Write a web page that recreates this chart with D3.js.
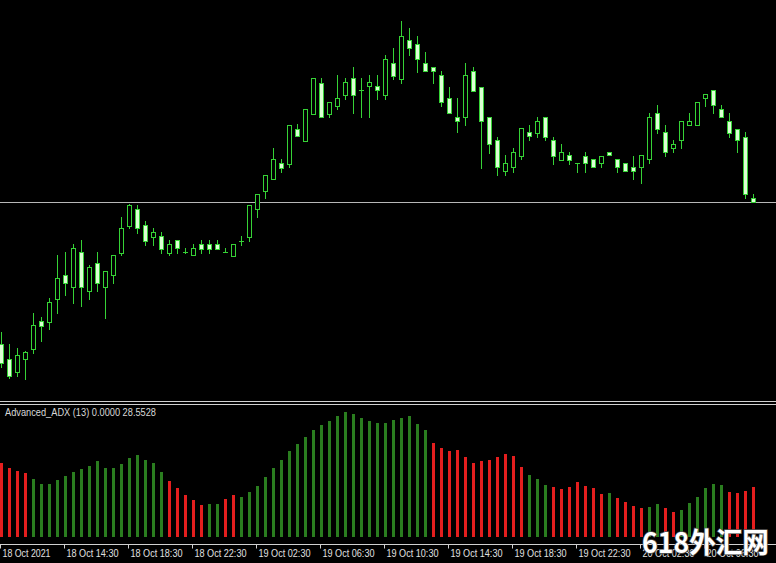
<!DOCTYPE html>
<html><head><meta charset="utf-8">
<script src="https://cdn.jsdelivr.net/npm/d3@7"></script>
<style>html,body{margin:0;padding:0;background:#000;}svg{display:block;}</style>
</head><body>
<script>
// ---- data (EURUSD-like M30 bars) ----
const openP  = [1.16258,1.16243,1.16230,1.16243,1.16253,1.16281,1.16280,1.16303,1.16327,1.16315,1.16350,1.16311,1.16339,1.16315,1.16327,1.16349,1.16376,1.16393,1.16377,1.16365,1.16366,1.16349,1.16362,1.16350,1.16347,1.16358,1.16358,1.16358,1.16350,1.16346,1.16361,1.16365,1.16393,1.16411,1.16423,1.16439,1.16438,1.16473,1.16461,1.16488,1.16519,1.16488,1.16496,1.16507,1.16524,1.16512,1.16516,1.16516,1.16507,1.16539,1.16523,1.16562,1.16558,1.16539,1.16535,1.16527,1.16504,1.16485,1.16485,1.16531,1.16515,1.16485,1.16462,1.16431,1.16435,1.16446,1.16470,1.16469,1.16485,1.16462,1.16442,1.16447,1.16439,1.16446,1.16443,1.16439,1.16450,1.16443,1.16439,1.16435,1.16435,1.16443,1.16489,1.16470,1.16454,1.16462,1.16477,1.16477,1.16504,1.16512,1.16493,1.16481,1.16473,1.16465,1.16404];
const highP  = [1.16270,1.16258,1.16254,1.16251,1.16289,1.16285,1.16304,1.16347,1.16350,1.16358,1.16362,1.16337,1.16350,1.16331,1.16347,1.16385,1.16398,1.16397,1.16381,1.16374,1.16370,1.16362,1.16362,1.16354,1.16358,1.16362,1.16362,1.16362,1.16354,1.16358,1.16366,1.16397,1.16408,1.16427,1.16454,1.16443,1.16477,1.16478,1.16493,1.16524,1.16524,1.16500,1.16527,1.16524,1.16535,1.16524,1.16527,1.16527,1.16547,1.16554,1.16581,1.16574,1.16566,1.16550,1.16535,1.16531,1.16515,1.16504,1.16539,1.16535,1.16515,1.16485,1.16465,1.16447,1.16454,1.16474,1.16477,1.16485,1.16485,1.16465,1.16458,1.16450,1.16439,1.16450,1.16443,1.16446,1.16450,1.16443,1.16439,1.16446,1.16447,1.16489,1.16497,1.16477,1.16462,1.16481,1.16489,1.16500,1.16508,1.16512,1.16497,1.16489,1.16473,1.16470,1.16408];
const lowP   = [1.16235,1.16224,1.16226,1.16223,1.16249,1.16261,1.16273,1.16289,1.16307,1.16299,1.16296,1.16303,1.16311,1.16284,1.16319,1.16347,1.16374,1.16369,1.16357,1.16357,1.16349,1.16347,1.16349,1.16349,1.16347,1.16349,1.16349,1.16353,1.16350,1.16346,1.16357,1.16361,1.16385,1.16404,1.16423,1.16430,1.16435,1.16466,1.16461,1.16488,1.16485,1.16485,1.16493,1.16503,1.16489,1.16485,1.16485,1.16503,1.16503,1.16523,1.16519,1.16547,1.16530,1.16531,1.16519,1.16496,1.16489,1.16470,1.16477,1.16511,1.16434,1.16449,1.16427,1.16427,1.16430,1.16443,1.16462,1.16465,1.16462,1.16438,1.16442,1.16438,1.16430,1.16430,1.16435,1.16435,1.16447,1.16430,1.16431,1.16423,1.16419,1.16439,1.16469,1.16446,1.16450,1.16454,1.16477,1.16477,1.16496,1.16489,1.16485,1.16465,1.16450,1.16404,1.16400];
const closeP = [1.16239,1.16226,1.16247,1.16250,1.16277,1.16276,1.16300,1.16324,1.16319,1.16354,1.16315,1.16335,1.16319,1.16331,1.16347,1.16374,1.16397,1.16374,1.16361,1.16370,1.16353,1.16358,1.16354,1.16350,1.16354,1.16353,1.16353,1.16353,1.16350,1.16358,1.16361,1.16397,1.16408,1.16427,1.16443,1.16434,1.16477,1.16466,1.16493,1.16524,1.16485,1.16500,1.16504,1.16520,1.16507,1.16512,1.16520,1.16512,1.16543,1.16526,1.16566,1.16554,1.16543,1.16531,1.16531,1.16500,1.16489,1.16481,1.16527,1.16511,1.16481,1.16458,1.16435,1.16439,1.16450,1.16474,1.16466,1.16481,1.16465,1.16446,1.16450,1.16442,1.16439,1.16439,1.16435,1.16446,1.16447,1.16435,1.16431,1.16431,1.16447,1.16485,1.16473,1.16450,1.16458,1.16481,1.16481,1.16500,1.16508,1.16497,1.16485,1.16469,1.16462,1.16408,1.16400];
const currentPrice = 1.16400;

const adxValues = [41.8,39.3,37.5,36.3,32.9,30.1,30.1,32.2,34.6,36.7,38.6,40.3,43.0,39.3,39.2,41.3,44.8,46.6,43.7,41.8,36.7,31.8,27.6,23.8,21.0,18.2,18.7,18.7,21.4,23.8,22.9,25.7,29.1,34.2,39.3,43.9,48.8,52.8,56.8,60.9,63.6,66.0,68.7,71.1,69.8,67.7,66.0,64.9,64.9,66.1,67.7,68.7,64.2,60.9,53.5,50.4,49.0,49.4,45.6,42.2,43.3,43.7,45.6,47.1,46.0,39.7,35.2,32.9,29.5,28.6,27.2,28.6,31.1,29.1,28.0,24.2,25.1,22.3,20.0,17.8,16.6,17.2,18.9,16.6,14.4,15.3,19.1,22.9,28.0,29.9,29.5,25.7,25.1,26.3,28.5528];
// 1 = rising (green), 0 = falling (red)
const adxRising = [0,0,0,0,1,1,1,1,1,1,1,1,1,1,1,1,1,1,1,1,1,0,0,0,0,0,1,1,0,0,1,1,1,1,1,1,1,1,1,1,1,1,1,1,1,1,1,1,1,1,1,1,1,1,0,0,0,0,0,0,0,0,0,0,0,0,1,1,1,0,0,0,0,0,0,0,1,0,0,0,0,1,1,0,0,1,1,1,1,1,1,0,0,0,0];

const tickLabels = ["18 Oct 2021","18 Oct 14:30","18 Oct 18:30","18 Oct 22:30","19 Oct 02:30","19 Oct 06:30","19 Oct 10:30","19 Oct 14:30","19 Oct 18:30","19 Oct 22:30","20 Oct 02:30","20 Oct 06:30"];
const tickBars = [0,8,16,24,32,40,48,56,64,72,80,88];
const indicatorLabel = "Advanced_ADX (13) 0.0000 28.5528";
const watermark = "618外汇网";

// ---- layout ----
const W = 776, H = 563;
const svg = d3.select("body").append("svg").attr("width", W).attr("height", H)
  .style("background", "#000");

const n = openP.length;
const x = d3.scaleLinear().domain([0, n - 1]).range([1, 1 + 8 * (n - 1)]);
const y = d3.scaleLinear().domain([1.16222, 1.16582]).range([380, 20]);
const yA = d3.scaleLinear().domain([0, 80]).range([537, 396]);

const px = v => Math.round(v) + 0.5;
const lineColor = "#36d236";
const bearFill = "#dcffd4";

// current price line
svg.append("line").attr("x1", 0).attr("x2", W)
  .attr("y1", px(y(currentPrice))).attr("y2", px(y(currentPrice)))
  .attr("stroke", "#b8b8b8").attr("stroke-width", 1);

// candles
const g = svg.append("g").attr("shape-rendering", "crispEdges");
const idx = d3.range(n);
g.selectAll("line.wick").data(idx).join("line")
  .attr("x1", i => px(x(i))).attr("x2", i => px(x(i)))
  .attr("y1", i => Math.round(y(highP[i]))).attr("y2", i => Math.round(y(lowP[i])) + 1)
  .attr("stroke", lineColor).attr("stroke-width", 1);

g.selectAll("rect.body").data(idx.filter(i => Math.round(y(openP[i])) !== Math.round(y(closeP[i])))).join("rect")
  .attr("x", i => px(x(i)) - 2)
  .attr("width", 4)
  .attr("y", i => px(Math.min(y(openP[i]), y(closeP[i]))))
  .attr("height", i => Math.round(Math.abs(y(openP[i]) - y(closeP[i]))))
  .attr("fill", i => closeP[i] >= openP[i] ? "#000" : bearFill)
  .attr("stroke", lineColor).attr("stroke-width", 1);

g.selectAll("line.doji").data(idx.filter(i => Math.round(y(openP[i])) === Math.round(y(closeP[i])))).join("line")
  .attr("x1", i => px(x(i)) - 2.5).attr("x2", i => px(x(i)) + 2.5)
  .attr("y1", i => px(y(openP[i]))).attr("y2", i => px(y(openP[i])))
  .attr("stroke", lineColor).attr("stroke-width", 1);

// panel separator
[401.5, 404.5].forEach(yy => svg.append("line").attr("x1", 0).attr("x2", W)
  .attr("y1", yy).attr("y2", yy).attr("stroke", "#d0d0d0").attr("stroke-width", 1));

// ADX histogram
svg.append("g").attr("shape-rendering", "crispEdges")
  .selectAll("rect").data(idx).join("rect")
  .attr("x", i => Math.round(x(i)) - 1)
  .attr("width", 3)
  .attr("y", i => Math.round(yA(adxValues[i])))
  .attr("height", i => Math.round(yA(0)) - Math.round(yA(adxValues[i])))
  .attr("fill", i => adxRising[i] ? "#2a7d1f" : "#e41e1e");

svg.append("text").attr("x", 5).attr("y", 416)
  .attr("font-family", "Liberation Sans, Arial, sans-serif").attr("font-size", 10)
  .attr("fill", "#d8d8d8").attr("textLength", 151).attr("lengthAdjust", "spacingAndGlyphs")
  .text(indicatorLabel);

// time axis
const axisY = 544.5;
svg.append("line").attr("x1", 0).attr("x2", W).attr("y1", axisY).attr("y2", axisY)
  .attr("stroke", "#d0d0d0").attr("stroke-width", 1);
const ticks = svg.append("g");
tickBars.forEach((b, k) => {
  const tx = Math.round(x(b)) - 0.5;
  ticks.append("line").attr("x1", tx).attr("x2", tx).attr("y1", axisY).attr("y2", axisY + 4)
    .attr("stroke", "#d0d0d0").attr("stroke-width", 1);
  ticks.append("text").attr("x", tx + 2).attr("y", 557)
    .attr("font-family", "Liberation Sans, Arial, sans-serif").attr("font-size", 10)
    .attr("fill", "#e0e0e0")
    .attr("textLength", k === 0 ? 48 : 52).attr("lengthAdjust", "spacingAndGlyphs")
    .text(tickLabels[k]);
});

// watermark (overlays the last axis labels as in the source image)
svg.append("text").attr("x", 642).attr("y", 553)
  .attr("font-family", "Noto Sans CJK SC, sans-serif").attr("font-weight", "bold")
  .attr("font-size", 28).attr("fill", "#ffffff")
  .attr("stroke", "#555").attr("stroke-width", 1.5).attr("paint-order", "stroke")
  .attr("textLength", 127).attr("lengthAdjust", "spacingAndGlyphs")
  .text(watermark);
</script>
</body></html>
